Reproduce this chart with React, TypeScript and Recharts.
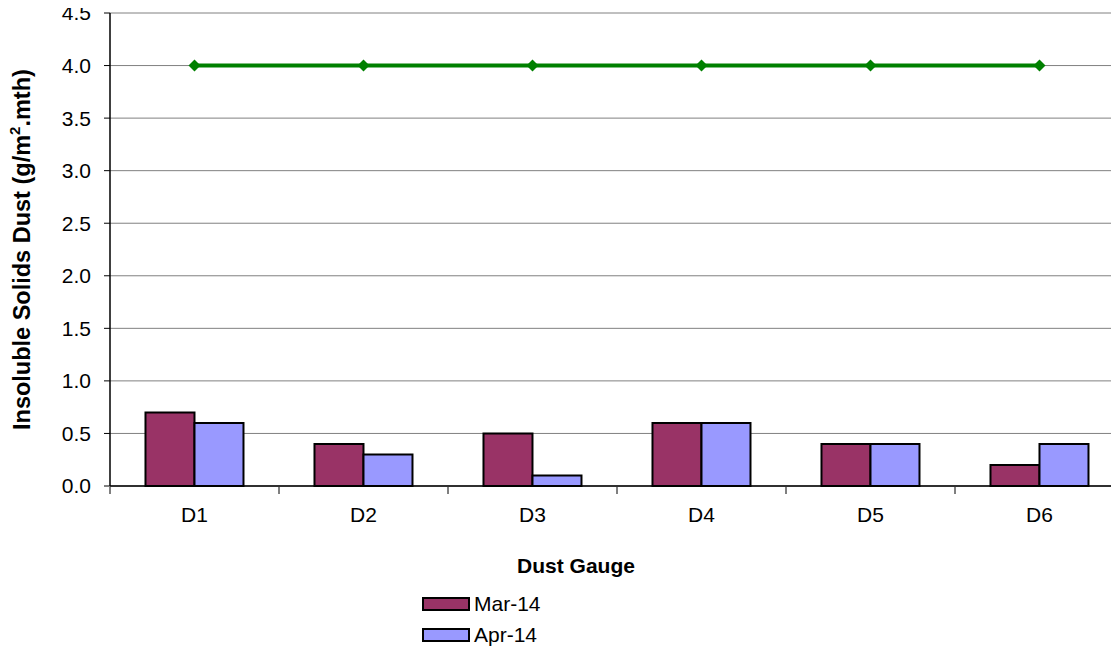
import React from "react";
import {Bar, CartesianGrid, ComposedChart, Label, Line, XAxis, YAxis} from "recharts";

// monthly dust fallout per gauge, g/m².mth
const gauges = ["D1", "D2", "D3", "D4", "D5", "D6"];
const mar14 = [0.7, 0.4, 0.5, 0.6, 0.4, 0.2];
const apr14 = [0.6, 0.3, 0.1, 0.6, 0.4, 0.4];
const limit = [4.0, 4.0, 4.0, 4.0, 4.0, 4.0];
const yTicks = [0, 0.5, 1.0, 1.5, 2.0, 2.5, 3.0, 3.5, 4.0, 4.5];

const seriesNames = ["Mar-14", "Apr-14"];
const seriesColors = ["#993366", "#9999FF"];

const data = gauges.map((name, i) => ({name, mar: mar14[i], apr: apr14[i], limit: limit[i]}));

const CHART_W = 1130;
const CHART_H = 648;
const Y_AXIS_W = 110;
const MARGIN_RIGHT = 6;
const PLOT_W = CHART_W - Y_AXIS_W - MARGIN_RIGHT;
const FONT = "'Liberation Sans', Arial, sans-serif";

function GaugeTick(props: any) {
    const {x, y, payload, index} = props;
    const band = PLOT_W / gauges.length;
    return (
        <g>
            <line x1={x - band / 2} x2={x - band / 2} y1={y - 7} y2={y} stroke="#000" strokeWidth={1}/>
            {index === gauges.length - 1 && (
                <line x1={x + band / 2} x2={x + band / 2} y1={y - 7} y2={y} stroke="#000" strokeWidth={1}/>
            )}
            <text x={x} y={y + 28} textAnchor="middle" fontSize={21} fontFamily={FONT} fill="#000">
                {payload.value}
            </text>
        </g>
    );
}

function Diamond(props: any) {
    const {cx, cy} = props;
    if (cx == null || cy == null) return null;
    const r = 6;
    return <path d={`M${cx},${cy - r}L${cx + r},${cy}L${cx},${cy + r}L${cx - r},${cy}Z`} fill="#008000"/>;
}

// rotated axis title, anchored at its bottom end
function YTitle() {
    return (
        <g transform="translate(22 430) rotate(-90)">
            <text x={0} y={0} textAnchor="start" dominantBaseline="central"
                  fontSize={23.5} fontWeight="bold" fontFamily={FONT} fill="#000">
                Insoluble Solids Dust (g/m<tspan dy={-8} fontSize={15}>2</tspan><tspan dy={8}>.mth)</tspan>
            </text>
        </g>
    );
}

function XTitle() {
    return (
        <text x={576} y={565} textAnchor="middle" dominantBaseline="central"
              fontSize={21} fontWeight="bold" fontFamily={FONT} fill="#000">
            Dust Gauge
        </text>
    );
}

export default function App() {
    return (
        <div style={{position: "relative", margin: "-8px 0 0 -8px", width: CHART_W, height: CHART_H, fontFamily: FONT}}>
            <ComposedChart width={CHART_W} height={CHART_H} data={data}
                           margin={{top: 13, right: MARGIN_RIGHT, left: 0, bottom: 0}}
                           barCategoryGap="21%" barGap={0}>
                <CartesianGrid vertical={false} stroke="#808080" strokeWidth={1}/>
                <XAxis dataKey="name" height={162} axisLine={{stroke: "#000", strokeWidth: 1.5}} tickLine={false}
                       tick={<GaugeTick/>} interval={0}>
                    <Label content={<XTitle/>}/>
                </XAxis>
                <YAxis width={Y_AXIS_W} domain={[0, 4.5]} ticks={yTicks} interval={0}
                       tickFormatter={(v: number) => v.toFixed(1)}
                       axisLine={{stroke: "#000", strokeWidth: 1.5}} tickLine={{stroke: "#000"}} tickSize={6}
                       tickMargin={13}
                       tick={{fontSize: 21, fill: "#000", fontFamily: FONT}}>
                    <Label content={<YTitle/>}/>
                </YAxis>
                <Bar dataKey="mar" name={seriesNames[0]} fill={seriesColors[0]} stroke="#000" strokeWidth={2}
                     isAnimationActive={false}/>
                <Bar dataKey="apr" name={seriesNames[1]} fill={seriesColors[1]} stroke="#000" strokeWidth={2}
                     isAnimationActive={false}/>
                <Line dataKey="limit" stroke="#008000" strokeWidth={4} dot={<Diamond/>} activeDot={false}
                      isAnimationActive={false}/>
            </ComposedChart>
            <div style={{position: "absolute", left: 422, top: 588, fontSize: 21, lineHeight: "31px"}}>
                {seriesNames.map((name, i) => (
                    <div key={name} style={{display: "flex", alignItems: "center", height: 31}}>
                        <span style={{
                            display: "inline-block", width: 44, height: 10, background: seriesColors[i],
                            border: "2px solid #000", marginRight: 4,
                        }}/>
                        {name}
                    </div>
                ))}
            </div>
        </div>
    );
}
